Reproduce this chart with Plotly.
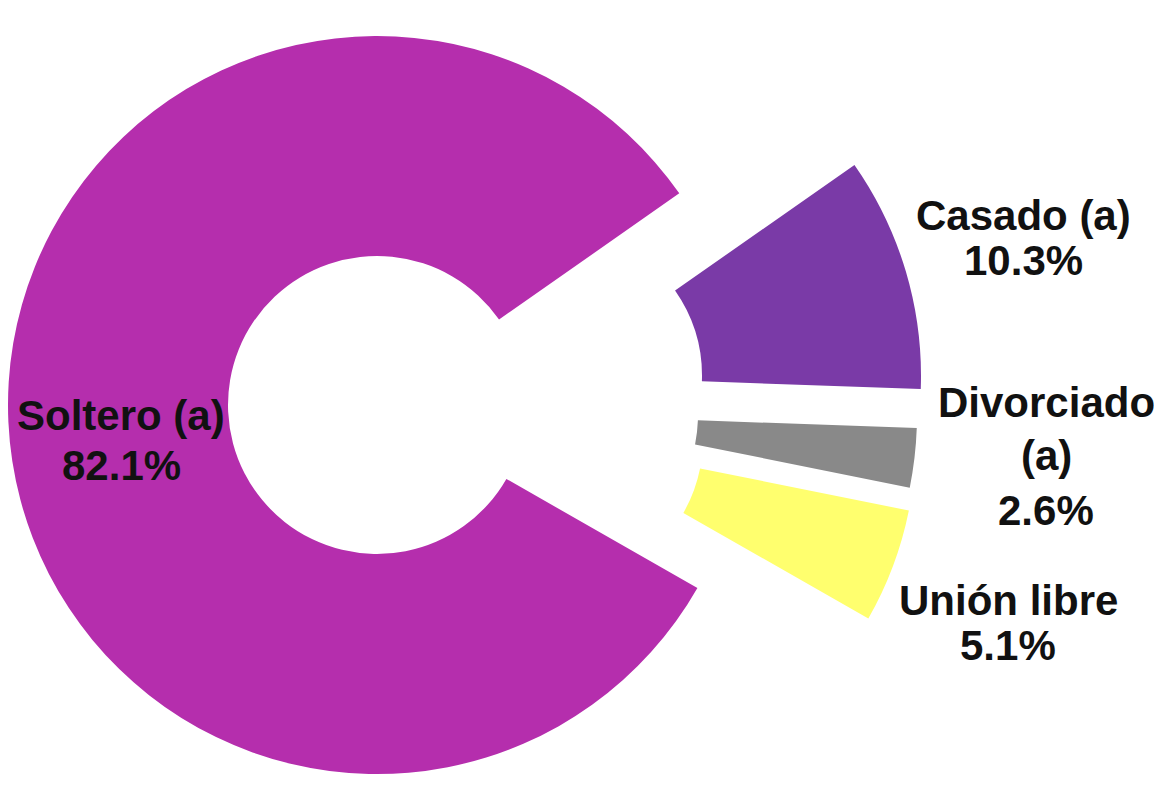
import plotly.graph_objects as go

# ---- data ----
labels = ["Casado (a)", "Divorciado (a)", "Unión libre", "Soltero (a)"]
values = [10.3, 2.6, 5.1, 82.1]
colors = ["#7A3AA7", "#898989", "#FFFF6E", "#B52EAD"]

# page body has an 8px default margin: work in window pixels, convert to figure pixels
OFF = 8
WIN_W, WIN_H = 1162, 801
W, H = WIN_W - OFF, WIN_H - OFF

# each slice is drawn by its own pie trace (same values, same rotation)
# so that every slice can be offset ("exploded") independently.
# (center_x, center_y, radius) in window pixels
slice_geom = {
    "Casado (a)": (553, 376, 368),
    "Divorciado (a)": (549, 415, 368),
    "Unión libre": (554, 439, 362),
    "Soltero (a)": (377, 405, 369),
}
inner_px = 149
rotation = 55

fig = go.Figure()
for i, lab in enumerate(labels):
    vx, vy, r = slice_geom[lab]
    cx, cy = vx - OFF, vy - OFF
    half = min(r, cx, W - cx, cy, H - cy)
    dom_x = [(cx - half) / W, (cx + half) / W]
    dom_y = [1 - (cy + half) / H, 1 - (cy - half) / H]
    cols = [colors[j] if j == i else "rgba(0,0,0,0)" for j in range(len(labels))]
    fig.add_trace(go.Pie(
        labels=labels,
        values=values,
        sort=False,
        direction="clockwise",
        rotation=rotation,
        hole=inner_px / half,
        marker=dict(colors=cols, line=dict(width=0)),
        textinfo="none",
        hoverinfo="skip",
        domain=dict(x=dom_x, y=dom_y),
        showlegend=False,
    ))

# ---- labels (one annotation per text line) ----
def label_lines(lab, val):
    if len(lab) > 12:
        head, tail = lab.rsplit(" ", 1)
        lines = [head, tail]
    else:
        lines = [lab]
    return lines + [f"{val:.1f}%"]

# (center_x, [baseline per line]) in window pixels
label_pos = {
    "Casado (a)": (1023, [230, 275]),
    "Divorciado (a)": (1046, [417, 470, 525]),
    "Unión libre": (1008, [615, 660]),
    "Soltero (a)": (121, [430, 480]),
}
fs = 42
for lab, val in zip(labels, values):
    x, baselines = label_pos[lab]
    for line, b in zip(label_lines(lab, val), baselines):
        fig.add_annotation(
            x=(x - OFF) / W, y=1 - (b - OFF - 0.35 * fs) / H,
            xref="paper", yref="paper",
            text=line, showarrow=False, xanchor="center", yanchor="middle",
            font=dict(family="Arial, Liberation Sans, sans-serif", size=fs,
                      color="#111111", weight="bold"),
        )

fig.update_layout(
    width=W, height=H,
    margin=dict(l=0, r=0, t=0, b=0),
    paper_bgcolor="#FFFFFF",
    plot_bgcolor="#FFFFFF",
    showlegend=False,
)

fig.write_html("out.html")
